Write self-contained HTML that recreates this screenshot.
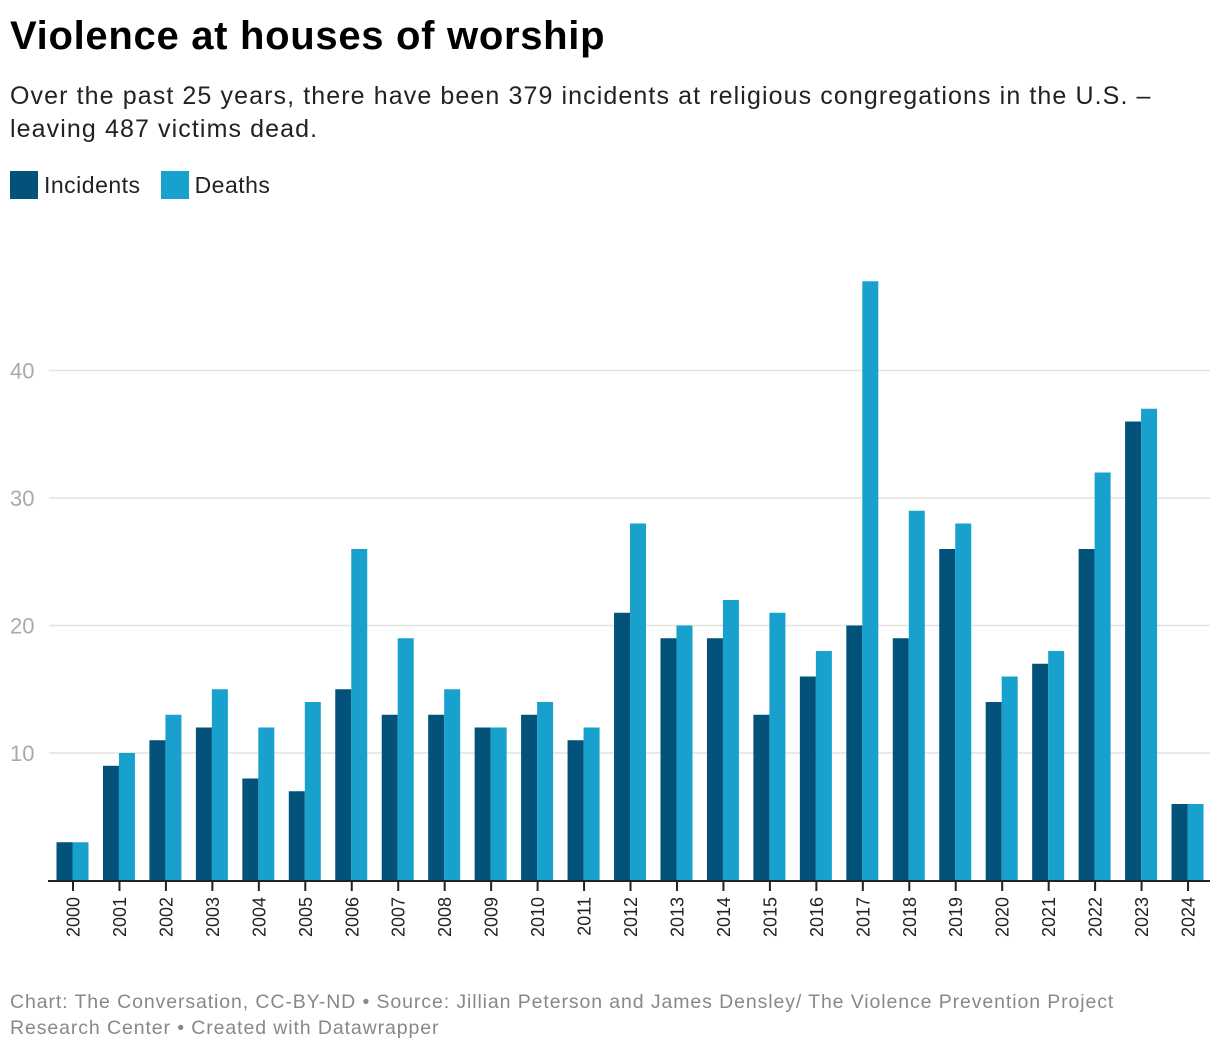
<!DOCTYPE html>
<html><head><meta charset="utf-8"><style>
body{margin:0;background:#fff;font-family:"Liberation Sans",Roboto,sans-serif;width:1220px;height:1054px;overflow:hidden;position:relative}
h1{position:absolute;left:10px;top:14px;margin:0;font-size:40px;font-weight:bold;color:#000;letter-spacing:0.7px}
.sub{position:absolute;left:10px;top:80px;font-size:25px;line-height:33px;color:#222;width:1170px;letter-spacing:1.1px}
.legend{position:absolute;left:10px;top:171px;font-size:23px;color:#222;display:flex;align-items:center;letter-spacing:0.5px}
.sw{width:28px;height:28px;display:inline-block;margin-right:6px}
.foot{position:absolute;left:10px;top:989px;font-size:19.5px;line-height:26px;color:#888;width:1150px;letter-spacing:0.9px}
</style></head><body>
<h1>Violence at houses of worship</h1>
<div class="sub">Over the past 25 years, there have been 379 incidents at religious congregations in the U.S. – leaving 487 victims dead.</div>
<div class="legend">
<span class="sw" style="background:#02527a"></span><span style="margin-right:20px">Incidents</span>
<span class="sw" style="background:#18a1cd"></span><span>Deaths</span>
</div>
<svg id="chart" width="1220" height="1054" style="position:absolute;left:0;top:0"></svg>
<div class="foot">Chart: The Conversation, CC-BY-ND • Source: Jillian Peterson and James Densley/ The Violence Prevention Project Research Center • Created with Datawrapper</div>
<script>
const years=["2000","2001","2002","2003","2004","2005","2006","2007","2008","2009","2010","2011","2012","2013","2014","2015","2016","2017","2018","2019","2020","2021","2022","2023","2024"];
const incidents=[3,9,11,12,8,7,15,13,13,12,13,11,21,19,19,13,16,20,19,26,14,17,26,36,6];
const deaths=[3,10,13,15,12,14,26,19,15,12,14,12,28,20,22,21,18,47,29,28,16,18,32,37,6];
const yTicks=[10,20,30,40];
const NS="http://www.w3.org/2000/svg";
const svg=document.getElementById('chart');
const y0=880.5, pxPer=12.75;
function y(v){return y0-v*pxPer;}
function xc(i){return 73+i*46.46;}
function mk(t,a){const e=document.createElementNS(NS,t);for(const k in a)e.setAttribute(k,a[k]);svg.appendChild(e);return e;}
yTicks.forEach(v=>{
 const l=mk('line',{x1:49,x2:1210,y1:y(v),y2:y(v),stroke:'#e2e2e2','stroke-width':1.5});
 
 
 const t=mk('text',{x:10,y:y(v)+8,'font-size':22,fill:'#aaa','font-family':'Liberation Sans, sans-serif'});
 t.textContent=v;
 
 
});
years.forEach((yr,i)=>{
 const c=xc(i);
 const b1=mk('rect',{x:c-16.5,y:y(incidents[i]),width:16,height:incidents[i]*pxPer,fill:'#02527a'});
 
 
 const b2=mk('rect',{x:c-0.5,y:y(deaths[i]),width:16,height:deaths[i]*pxPer,fill:'#18a1cd'});
 
 
 const tk=mk('line',{x1:c,x2:c,y1:881,y2:891,stroke:'#222','stroke-width':2});
 
 
 const t=mk('text',{x:0,y:0,'font-size':18,fill:'#222','text-anchor':'end','font-family':'Liberation Sans, sans-serif',transform:`translate(${c+6.5},897) rotate(-90)`});
 t.textContent=yr;
 
 
});
const base=mk('line',{x1:48,x2:1210,y1:881,y2:881,stroke:'#222','stroke-width':2});


</script>
</body></html>
